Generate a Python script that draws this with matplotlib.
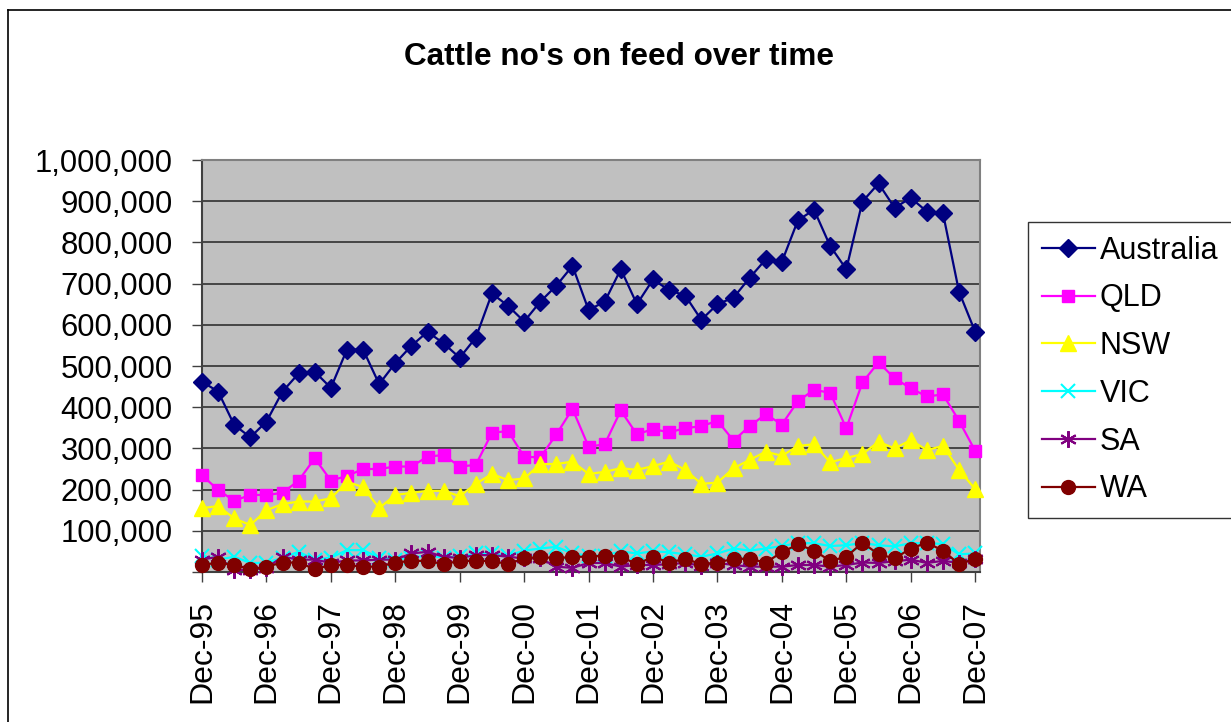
#Libraries
import numpy as np
import matplotlib
matplotlib.use('Agg')
import matplotlib.pyplot as plt
import matplotlib.ticker as ticker
from matplotlib.lines import Line2D

plt.rcParams['font.family'] = ['Liberation Sans', 'DejaVu Sans']

#Data (head counts in thousands, quarterly from Dec-95 to Dec-07)
years = ['95', '96', '97', '98', '99', '00', '01', '02', '03', '04', '05', '06', '07']
tick_labels = ['Dec-' + y for y in years]

australia = [462, 438, 357, 327, 365, 438, 482, 486, 447, 540,
             540, 456, 507, 549, 583, 555, 520, 569, 676, 646,
             608, 656, 695, 743, 636, 656, 735, 650, 710, 684,
             671, 612, 650, 666, 714, 759, 753, 854, 879, 791,
             735, 899, 943, 884, 908, 875, 871, 680, 583]
qld = [235, 199, 173, 187, 187, 192, 222, 276, 222, 233,
       250, 250, 256, 256, 280, 284, 256, 260, 338, 342,
       280, 278, 334, 396, 304, 310, 392, 334, 347, 339,
       349, 354, 367, 319, 354, 383, 358, 415, 442, 435,
       349, 460, 509, 470, 446, 426, 431, 367, 294]
nsw = [155, 160, 130, 114, 150, 165, 171, 171, 179, 219,
       206, 155, 187, 192, 197, 197, 184, 214, 238, 223,
       227, 262, 262, 268, 238, 243, 252, 248, 257, 268,
       248, 214, 217, 252, 272, 292, 282, 306, 310, 266,
       277, 286, 316, 300, 320, 296, 306, 248, 201]
vic = [40, 30, 37, 22, 22, 35, 49, 30, 35, 53,
       53, 35, 30, 35, 40, 35, 38, 45, 45, 40,
       52, 57, 61, 45, 40, 40, 50, 45, 50, 48,
       43, 37, 45, 57, 52, 57, 63, 70, 70, 63,
       65, 70, 65, 62, 70, 70, 68, 43, 45]
sa = [30, 37, 5, 5, 10, 37, 30, 30, 22, 28,
      28, 30, 30, 45, 49, 37, 34, 41, 41, 37,
      33, 33, 13, 10, 22, 22, 13, 17, 17, 19,
      22, 15, 22, 17, 13, 13, 13, 17, 17, 13,
      17, 23, 22, 26, 30, 22, 27, 22, 31]
wa = [17, 23, 17, 7, 13, 23, 23, 7, 17, 17,
      13, 13, 23, 27, 27, 19, 27, 27, 27, 19,
      33, 37, 33, 37, 37, 40, 37, 19, 37, 23,
      32, 19, 23, 32, 32, 23, 48, 67, 52, 27,
      37, 71, 43, 33, 57, 71, 52, 19, 32]

x = np.arange(len(australia))

#Series styles: name, values, colour, marker, size
series = [
    ('Australia', australia, '#000080', 'D', 9),
    ('QLD', qld, '#FF00FF', 's', 9),
    ('NSW', nsw, '#FFFF00', '^', 11),
    ('VIC', vic, '#00FFFF', 'x', 10),
    ('SA', sa, '#800080', (6, 2, 0), 12),
    ('WA', wa, '#800000', 'o', 10),
]

fig = plt.figure(figsize=(12.31, 7.22), dpi=100)
ax = fig.add_axes([202/1231, 150/722, 778/1231, 412/722])
ax.set_facecolor('#C0C0C0')

for name, vals, col, mk, ms in series:
    ax.plot(x, np.array(vals) * 1000, color=col, marker=mk, markersize=ms,
            markeredgecolor=col, markerfacecolor=col, markeredgewidth=1.5 if mk in ('x', (6, 2, 0)) else 1,
            linewidth=1.6, label=name, clip_on=False, zorder=3)

ax.set_xlim(0, 48.3)
ax.set_ylim(0, 1000000)

#Y axis
ax.set_yticks(np.arange(0, 1000001, 100000))
ax.yaxis.set_major_formatter(ticker.FuncFormatter(lambda v, p: '' if v == 0 else '{:,.0f}'.format(v)))
ax.yaxis.grid(True, color='#3C3C3C', linewidth=1.3)
ax.set_axisbelow(True)

#X axis
ax.set_xticks(np.arange(0, 49, 4))
ax.set_xticklabels(tick_labels, rotation=90)

ax.tick_params(axis='y', direction='out', length=7, width=1, colors='#404040', labelcolor='black', labelsize=22.3, pad=14)
ax.tick_params(axis='x', direction='out', length=7, width=1, colors='#404040', labelcolor='black', labelsize=23, pad=13)

for s in ['top', 'right']:
    ax.spines[s].set_color('#808080')
    ax.spines[s].set_linewidth(1.5)
for s in ['left', 'bottom']:
    ax.spines[s].set_color('#404040')
    ax.spines[s].set_linewidth(1.5)

#Title
fig.text(619/1231, 1 - 57/722, "Cattle no's on feed over time", ha='center', va='center',
         fontsize=22.7, fontweight='bold')

#Legend
leg = ax.legend(loc='upper left', bbox_to_anchor=(1028/1231, 1 - 222/722), bbox_transform=fig.transFigure,
                fontsize=22, frameon=True, fancybox=False, borderpad=0.45, labelspacing=0.58,
                handlelength=1.75, handletextpad=0.15, borderaxespad=0)
leg.get_frame().set_edgecolor('black')
leg.get_frame().set_linewidth(1)

#Outer chart border
fig.add_artist(Line2D([8/1231, 8/1231], [0, 1 - 10/722], color='black', linewidth=1.2))
fig.add_artist(Line2D([8/1231, 1], [1 - 10/722, 1 - 10/722], color='black', linewidth=1.2))

fig.savefig('out.png', dpi=100)
